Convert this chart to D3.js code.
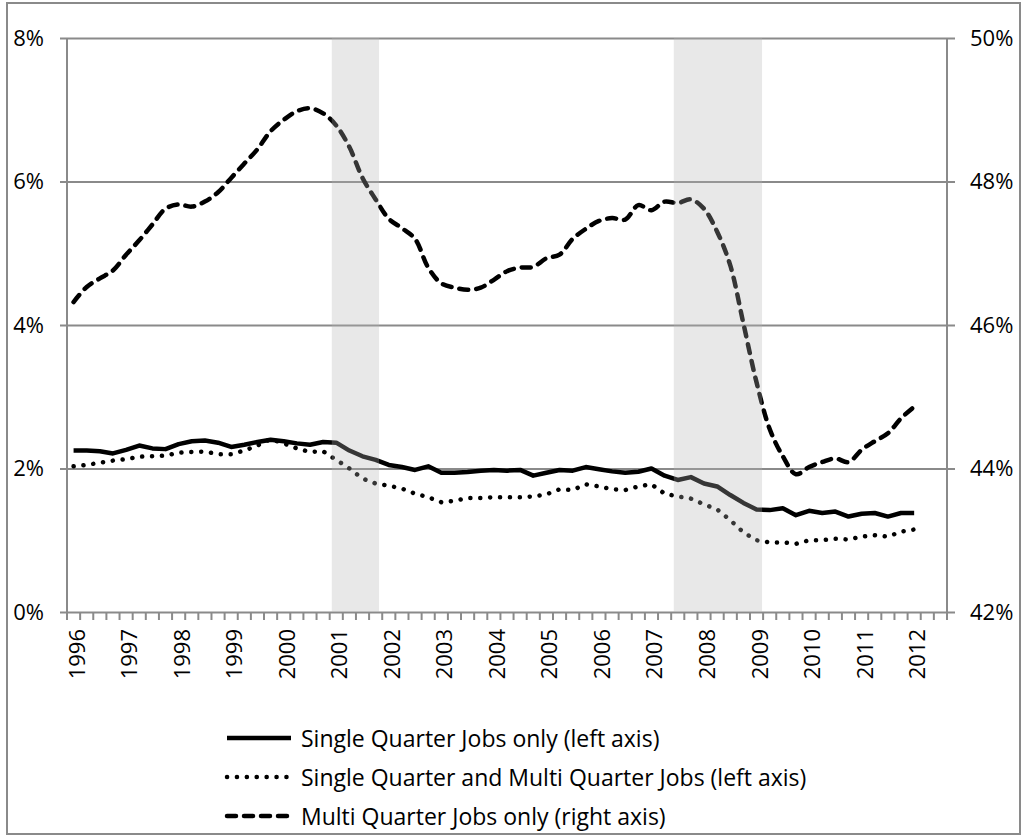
<!DOCTYPE html>
<html>
<head>
<meta charset="utf-8">
<script src="https://cdn.jsdelivr.net/npm/d3@7/dist/d3.min.js"></script>
<style>
  body { margin: 0; background: #fff; }
  svg { display: block; }
  text { font-family: 'Open Sans', sans-serif; fill: #000; }
</style>
</head>
<body>
<svg id="chart" width="1022" height="836"></svg>
<script>
// categories: quarterly, 1996Q1 .. 2012Q3 (data ends 2012Q1)
const years = d3.range(1996, 2013);
const quarters = years.flatMap(y => [1, 2, 3, 4].map(q => `${y}Q${q}`)).slice(0, 67);

// left axis, percent
const singleOnly = [
  2.25, 2.25, 2.24, 2.21, 2.26, 2.32, 2.28, 2.27, 2.34, 2.38, 2.39, 2.36, 2.30, 2.33, 2.37, 2.40,
  2.38, 2.35, 2.33, 2.37, 2.36, 2.25, 2.17, 2.12, 2.05, 2.02, 1.98, 2.03, 1.94, 1.94, 1.95, 1.97,
  1.98, 1.97, 1.98, 1.90, 1.94, 1.98, 1.97, 2.02, 1.99, 1.96, 1.94, 1.955, 2.00, 1.90, 1.84, 1.88,
  1.79, 1.75, 1.63, 1.52, 1.43, 1.42, 1.445, 1.35, 1.41, 1.38, 1.40, 1.33, 1.37, 1.38, 1.33, 1.38,
  1.38
];
const singleAndMulti = [
  2.03, 2.05, 2.08, 2.11, 2.13, 2.165, 2.17, 2.18, 2.22, 2.23, 2.235, 2.20, 2.20, 2.25, 2.32, 2.41,
  2.35, 2.28, 2.23, 2.24, 2.12, 2.00, 1.86, 1.79, 1.76, 1.72, 1.65, 1.60, 1.53, 1.55, 1.59, 1.59,
  1.60, 1.60, 1.60, 1.61, 1.64, 1.71, 1.70, 1.78, 1.75, 1.71, 1.70, 1.75, 1.78, 1.65, 1.61, 1.58,
  1.50, 1.43, 1.28, 1.11, 1.00, 0.97, 0.97, 0.95, 1.00, 1.00, 1.02, 1.01, 1.05, 1.07, 1.05, 1.12,
  1.15
];
// right axis, percent
const multiOnly = [
  46.32, 46.53, 46.65, 46.76, 46.98, 47.18, 47.40, 47.62, 47.68, 47.65, 47.72, 47.85, 48.05, 48.25, 48.45, 48.70,
  48.86, 48.98, 49.02, 48.95, 48.78, 48.48, 48.05, 47.75, 47.48, 47.35, 47.20, 46.80, 46.58, 46.52, 46.49, 46.52,
  46.63, 46.75, 46.80, 46.81, 46.93, 46.98, 47.20, 47.34, 47.45, 47.49, 47.47, 47.67, 47.60, 47.72, 47.70, 47.75,
  47.62, 47.30, 46.83, 46.02, 45.20, 44.55, 44.17, 43.92, 44.02, 44.09, 44.14, 44.09, 44.26, 44.38, 44.49, 44.70,
  44.86
];

const leftTicks = [0, 2, 4, 6, 8];
const rightTicks = [42, 44, 46, 48, 50];
// shaded recession periods, in fractional years
const recessionStart = [2001.04, 2007.55];
const recessionEnd = [2001.94, 2009.23];

const legendLabels = [
  'Single Quarter Jobs only (left axis)',
  'Single Quarter and Multi Quarter Jobs (left axis)',
  'Multi Quarter Jobs only (right axis)'
];
const legendDash = [null, '0.1 9.8', '9 8'];

const svg = d3.select('#chart');
const plotLeft = 67, plotRight = 947, plotTop = 38, plotBottom = 612;
const grey = '#8a8a8a';

const x = d3.scaleBand().domain(quarters).range([plotLeft, plotRight]);
const xc = q => x(q) + x.bandwidth() / 2;
const xYear = d3.scaleLinear().domain([1996, 1996 + quarters.length / 4]).range([plotLeft, plotRight]);
const yLeft = d3.scaleLinear().domain([0, 8]).range([plotBottom, plotTop]);
const yRight = d3.scaleLinear().domain([42, 50]).range([plotBottom, plotTop]);

// outer frame
svg.append('rect')
  .attr('x', 7).attr('y', 3).attr('width', 1013).attr('height', 831)
  .attr('fill', 'none').attr('stroke', grey).attr('stroke-width', 2);

// gridlines + left labels
const gLeft = svg.append('g').attr('transform', `translate(${plotLeft - 7},0)`)
  .call(d3.axisLeft(yLeft).tickValues(leftTicks).tickSize(-(plotRight - plotLeft + 15)).tickPadding(16).tickFormat(d => d + '%'));
gLeft.select('.domain').remove();
gLeft.selectAll('line').attr('stroke', grey).attr('stroke-width', 2);
gLeft.selectAll('text').attr('font-size', 22).style('font-family', "'Open Sans', sans-serif");

const gRight = svg.append('g').attr('transform', `translate(${plotRight + 8},0)`)
  .call(d3.axisRight(yRight).tickValues(rightTicks).tickSize(0).tickPadding(15).tickFormat(d => d + '%'));
gRight.select('.domain').remove();
gRight.selectAll('text').attr('font-size', 22).style('font-family', "'Open Sans', sans-serif");

// axis lines
svg.append('line').attr('x1', plotLeft).attr('x2', plotLeft).attr('y1', plotTop).attr('y2', plotBottom)
  .attr('stroke', grey).attr('stroke-width', 2);
svg.append('line').attr('x1', plotRight).attr('x2', plotRight).attr('y1', plotTop).attr('y2', plotBottom)
  .attr('stroke', grey).attr('stroke-width', 2);

// category tick marks at boundaries
const boundaries = quarters.map(q => x(q)).concat([plotRight]);
svg.append('g').selectAll('line').data(boundaries).enter().append('line')
  .attr('x1', d => d).attr('x2', d => d).attr('y1', plotBottom).attr('y2', plotBottom + 8)
  .attr('stroke', grey).attr('stroke-width', 2);

// year labels
svg.append('g').selectAll('text').data(quarters.filter(q => q.endsWith('Q1'))).enter().append('text')
  .attr('transform', q => `translate(${xc(q) + 2},${plotBottom + 17}) rotate(-90)`)
  .attr('text-anchor', 'end')
  .attr('dominant-baseline', 'central')
  .attr('font-size', 22)
  .text(q => q.slice(0, 4));

// series
const lineLeft = d3.line().x((d, i) => xc(quarters[i])).y(d => yLeft(d));
const lineRight = d3.line().x((d, i) => xc(quarters[i])).y(d => yRight(d)).curve(d3.curveCatmullRom.alpha(0.5));

svg.append('path').datum(singleAndMulti).attr('d', lineLeft)
  .attr('fill', 'none').attr('stroke', '#000').attr('stroke-width', 4.5)
  .attr('stroke-linecap', 'round').attr('stroke-dasharray', legendDash[1]);
svg.append('path').datum(singleOnly).attr('d', lineLeft)
  .attr('fill', 'none').attr('stroke', '#000').attr('stroke-width', 4.5)
  .attr('stroke-linejoin', 'round');
svg.append('path').datum(multiOnly).attr('d', lineRight)
  .attr('fill', 'none').attr('stroke', '#000').attr('stroke-width', 4.5)
  .attr('stroke-linecap', 'round').attr('stroke-dasharray', legendDash[2]);

// recession shading (drawn over the lines, semi-transparent)
svg.append('g').selectAll('rect').data(recessionStart).enter().append('rect')
  .attr('x', d => xYear(d))
  .attr('width', (d, i) => xYear(recessionEnd[i]) - xYear(d))
  .attr('y', plotTop)
  .attr('height', plotBottom - plotTop)
  .attr('fill', 'rgb(180,180,180)')
  .attr('fill-opacity', 0.3);

// legend
const legend = svg.append('g');
const rows = legend.selectAll('g').data(legendLabels).enter().append('g')
  .attr('transform', (d, i) => `translate(225,${738 + i * 39})`);
rows.append('line').attr('x1', 2).attr('x2', 66).attr('y1', 0).attr('y2', 0)
  .attr('stroke', '#000').attr('stroke-width', 4.5)
  .attr('stroke-linecap', (d, i) => i === 0 ? 'butt' : 'round')
  .attr('stroke-dasharray', (d, i) => legendDash[i]);
rows.append('text').attr('x', 76).attr('y', 0)
  .attr('dominant-baseline', 'central')
  .attr('font-size', 23)
  .text(d => d);
</script>
</body>
</html>
